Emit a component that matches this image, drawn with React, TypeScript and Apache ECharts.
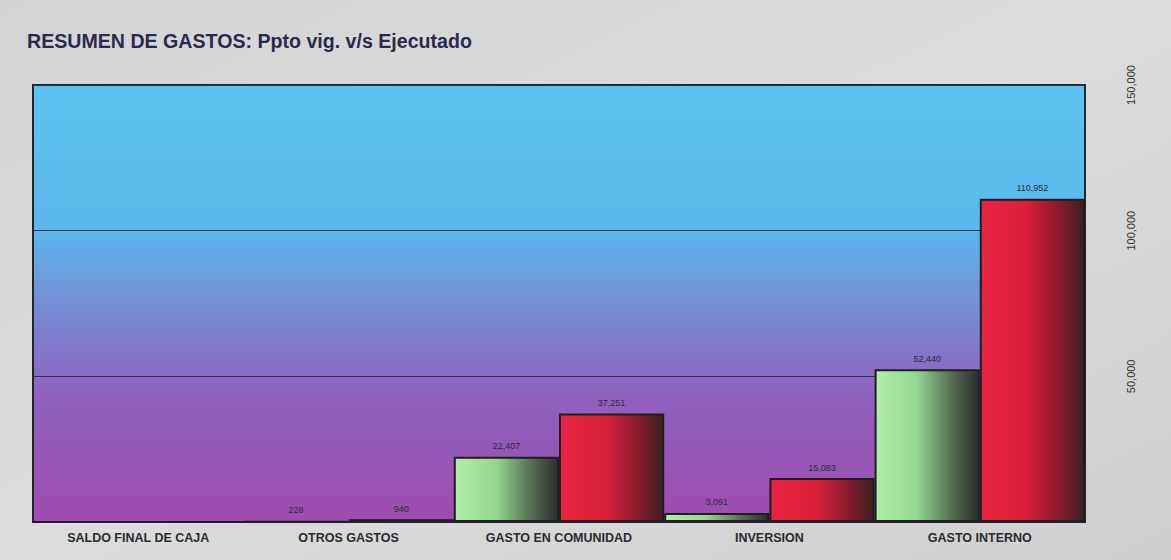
import React, { useEffect, useRef } from "react";
import * as echarts from "echarts";

const titleText = "RESUMEN DE GASTOS: Ppto vig. v/s Ejecutado";
const categories = ["SALDO FINAL DE CAJA", "OTROS GASTOS", "GASTO EN COMUNIDAD", "INVERSION", "GASTO INTERNO"];
const presupuestoVigente = [0, 228, 22407, 3091, 52440];
const ejecutado = [0, 940, 37251, 15083, 110952];
const axisMin = 0;
const axisMax = 150000;
const axisInterval = 50000;

const fmt = (v: number) => v.toLocaleString("en-US");

export default function App() {
  const ref = useRef<HTMLDivElement>(null);
  useEffect(() => {
    if (!ref.current) return;
    const chart = echarts.init(ref.current, undefined, { renderer: "svg" });
    const label = {
      show: true,
      position: "top" as const,
      distance: 6,
      fontSize: 9,
      color: "#2b2b3a",
      fontFamily: "Liberation Sans, Arial, sans-serif",
      formatter: (p: any) => (p.value ? fmt(p.value) : ""),
    };
    chart.setOption({
      animation: false,
      backgroundColor: {
        type: "linear", x: 0, y: 0, x2: 1, y2: 1,
        colorStops: [
          { offset: 0, color: "#d4d4d4" },
          { offset: 0.5, color: "#dcdcdc" },
          { offset: 1, color: "#cfcfcf" },
        ],
      },
      title: {
        text: titleText,
        left: 22,
        top: 26,
        textStyle: {
          fontSize: 19.6,
          fontWeight: "bold",
          color: "#2a2a4c",
          fontFamily: "Liberation Sans, Arial, sans-serif",
        },
      },
      grid: {
        left: 33,
        right: 86,
        top: 85,
        bottom: 38,
        show: true,
        borderColor: "#22252e",
        borderWidth: 2,
        backgroundColor: {
          type: "linear", x: 0, y: 0, x2: 0, y2: 1,
          colorStops: [
            { offset: 0, color: "#5cc3ef" },
            { offset: 0.33, color: "#5ab8ec" },
            { offset: 0.55, color: "#7b82d0" },
            { offset: 0.72, color: "#9060be" },
            { offset: 1, color: "#9e4cae" },
          ],
        },
      },
      xAxis: {
        type: "category",
        data: categories,
        axisTick: { show: false },
        axisLine: { show: true, lineStyle: { color: "#22252e", width: 2 } },
        axisLabel: {
          margin: 9,
          fontSize: 12.5,
          fontWeight: "bold",
          color: "#2a2a30",
          fontFamily: "Liberation Sans, Arial, sans-serif",
          interval: 0,
        },
      },
      yAxis: {
        type: "value",
        position: "right",
        offset: 0,
        min: axisMin,
        max: axisMax,
        interval: axisInterval,
        axisLine: { show: false },
        axisTick: { show: false },
        splitLine: { show: true, lineStyle: { color: "#283252", width: 1 } },
        axisLabel: {
          rotate: 90,
          align: "center",
          margin: 40,
          fontSize: 11,
          color: "#333",
          fontFamily: "Liberation Sans, Arial, sans-serif",
          formatter: (v: number) => (v === 0 ? "" : fmt(v)),
        },
      },
      series: [
        {
          name: "Ppto vig.",
          type: "bar",
          data: presupuestoVigente,
          barGap: "0%",
          barCategoryGap: "0%",
          label,
          itemStyle: {
            borderColor: "#1e1e22",
            borderWidth: 2,
            color: {
              type: "linear", x: 0, y: 0, x2: 1, y2: 0,
              colorStops: [
                { offset: 0, color: "#b2eeaa" },
                { offset: 0.4, color: "#94d690" },
                { offset: 0.75, color: "#546a52" },
                { offset: 1, color: "#2c2e2c" },
              ],
            },
          },
        },
        {
          name: "Ejecutado",
          type: "bar",
          data: ejecutado,
          barGap: "0%",
          barCategoryGap: "0%",
          label,
          itemStyle: {
            borderColor: "#1e1e22",
            borderWidth: 2,
            color: {
              type: "linear", x: 0, y: 0, x2: 1, y2: 0,
              colorStops: [
                { offset: 0, color: "#ea2440" },
                { offset: 0.45, color: "#d81f3a" },
                { offset: 0.8, color: "#7c1c2c" },
                { offset: 1, color: "#3a2022" },
              ],
            },
          },
        },
      ],
    });
    return () => chart.dispose();
  }, []);
  return (
    <div
      ref={ref}
      style={{ position: "fixed", left: 0, top: 0, width: 1171, height: 560 }}
    />
  );
}
